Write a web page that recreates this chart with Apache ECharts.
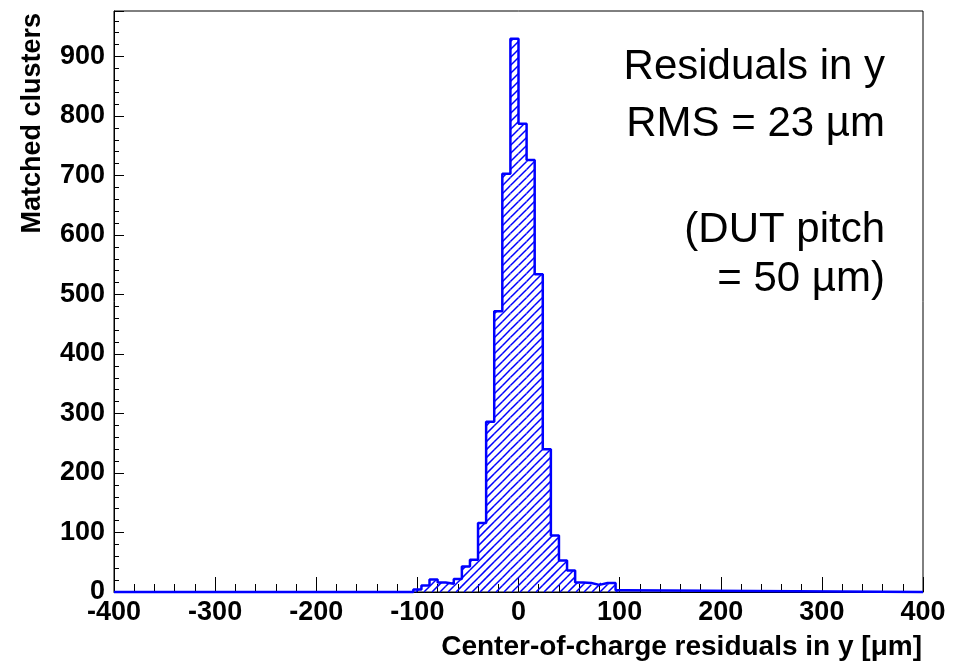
<!DOCTYPE html>
<html><head><meta charset="utf-8">
<script src="https://cdn.jsdelivr.net/npm/echarts@6/dist/echarts.min.js"></script>
<style>html,body{margin:0;padding:0;background:#fff}#c{width:963px;height:665px}</style>
</head><body><div id="c"></div>
<script>
// ---- data ----
const xRange = [-400, 400];
const yMax = 976.5;
const binWidth = 8;
const binLowEdges = [-104,-96,-88,-80,-72,-64,-56,-48,-40,-32,-24,-16,-8,0,8,16,24,32,40,48,56,64,72,80,88,96];
const counts = [4,11,21,16,14,22,43,54,116,286,472,703,930,787,726,534,240,95,53,36,16,15,12,15,15,3];
const xTitle = 'Center-of-charge residuals in y [\u03bcm]';
const yTitle = 'Matched clusters';
const noteLines = ['Residuals in y', 'RMS = 23 \u00b5m', '(DUT pitch', '= 50 \u00b5m)'];

const HATCH = 8; // hatch spacing in pixels (ROOT fill style 3004)

// step outline points: lower bin edges, then return to zero
const stepData = [[xRange[0], 0]];
binLowEdges.forEach((e, i) => stepData.push([e, counts[i]]));
stepData.push([binLowEdges[binLowEdges.length - 1] + binWidth, 0]);
stepData.push([xRange[1], 0]);

const binData = binLowEdges.map((e, i) => [e, counts[i]]);

function renderHatch(params, api) {
  const lo = api.value(0), c = api.value(1);
  const pb = api.coord([lo, 0]);
  const pt = api.coord([lo + binWidth, c]);
  const left = pb[0], right = pt[0], bottom = pb[1], top = pt[1];
  const children = [];
  if (c > 0) {
    const cStart = Math.ceil((left + top) / HATCH) * HATCH;
    for (let k = cStart; k <= right + bottom; k += HATCH) {
      const xa = Math.max(left, k - bottom), xb = Math.min(right, k - top);
      if (xb > xa) {
        children.push({type: 'line', shape: {x1: xa, y1: k - xa, x2: xb, y2: k - xb},
          style: {stroke: '#0000ff', lineWidth: 1.5}, silent: true});
      }
    }
  }
  return {type: 'group', children: children};
}

const FONT = 'Liberation Sans, Arial, Helvetica, sans-serif';
const chart = echarts.init(document.getElementById('c'), null, {renderer: 'canvas'});
const noteY = [67, 124, 230, 279];
chart.setOption({
  animation: false,
  backgroundColor: '#fff',
  grid: {left: 114, right: 40, top: 11, bottom: 73, show: true, borderColor: '#000', borderWidth: 1, backgroundColor: '#fff'},
  xAxis: {
    type: 'value', min: xRange[0], max: xRange[1], interval: 100,
    axisLine: {show: true, onZero: false, lineStyle: {color: '#000', width: 1}},
    axisTick: {show: true, inside: true, length: 15, lineStyle: {color: '#000', width: 1}},
    minorTick: {show: true, splitNumber: 5, length: 8, lineStyle: {color: '#000', width: 1}},
    axisLabel: {color: '#000', fontFamily: FONT, fontWeight: 'bold', fontSize: 27, margin: 7},
    splitLine: {show: false}
  },
  yAxis: [
    {
      type: 'value', min: 0, max: yMax, interval: 100,
      axisLine: {show: true, onZero: false, lineStyle: {color: '#000', width: 1}},
      axisTick: {show: true, inside: true, length: 10, lineStyle: {color: '#000', width: 1}},
      axisLabel: {color: '#000', fontFamily: FONT, fontWeight: 'bold', fontSize: 27, margin: 9,
        formatter: v => (v % 100 === 0 ? String(v) : '')},
      splitLine: {show: false}
    },
    {
      type: 'value', min: 0, max: yMax, interval: 20, position: 'left',
      axisLine: {show: false, onZero: false},
      axisTick: {show: true, inside: true, length: 5, lineStyle: {color: '#000', width: 1}},
      axisLabel: {show: false},
      splitLine: {show: false}
    }
  ],
  series: [
    {
      type: 'custom', yAxisIndex: 0, data: binData, renderItem: renderHatch,
      encode: {x: 0, y: 1}, z: 2, silent: true
    },
    {
      type: 'line', step: 'end', yAxisIndex: 0, clip: false,
      symbol: 'none', data: stepData,
      lineStyle: {color: '#0000ff', width: 2.5},
      z: 3
    }
  ],
  graphic: [
    {type: 'text', x: 922, y: 647, z: 10,
     style: {text: xTitle, fill: '#000', font: 'bold 28px ' + FONT, align: 'right', verticalAlign: 'middle', textAlign: 'right', textVerticalAlign: 'middle'}},
    {type: 'text', x: 33, y: 13, rotation: Math.PI / 2, z: 10,
     style: {text: yTitle, fill: '#000', font: 'bold 27px ' + FONT, align: 'right', verticalAlign: 'middle', textAlign: 'right', textVerticalAlign: 'middle'}}
  ].concat(noteLines.map((t, i) => ({
    type: 'text', x: 885, y: noteY[i], z: 10,
    style: {text: t, fill: '#000', font: '42px ' + FONT, align: 'right', verticalAlign: 'middle', textAlign: 'right', textVerticalAlign: 'middle'}
  })))
});
</script></body></html>
